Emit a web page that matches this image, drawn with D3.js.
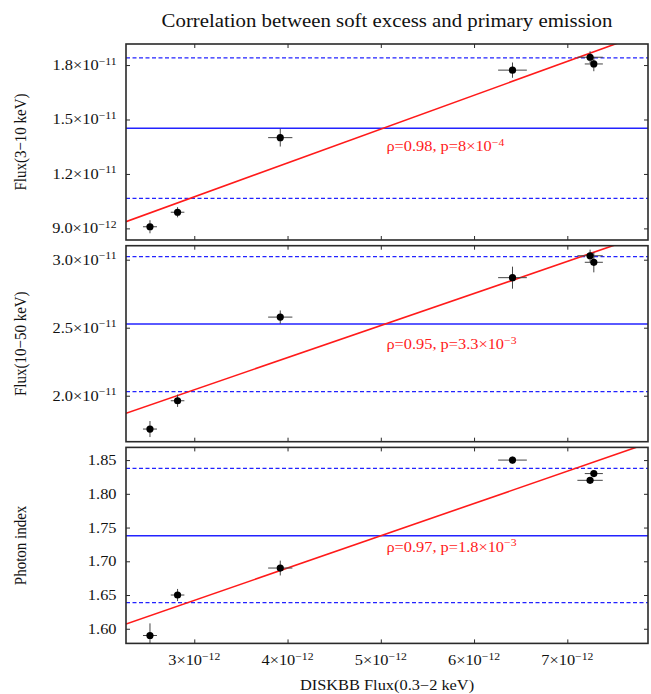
<!DOCTYPE html>
<html>
<head>
<meta charset="utf-8">
<script src="https://cdn.jsdelivr.net/npm/d3@7"></script>
<style>
  html, body { margin: 0; padding: 0; background: #fff; }
  svg { display: block; }
</style>
</head>
<body>
<script>
// ---------------- data ----------------
// x: DISKBB flux (0.3-2 keV) in units of 1e-12
const diskbbFlux    = [2.525, 2.821, 3.922, 6.412, 7.244, 7.284];
const diskbbFluxErr = [0.075, 0.073, 0.130, 0.154, 0.136, 0.097];
// Flux(3-10 keV) in units of 1e-11
const flux3to10     = [0.909, 0.989, 1.400, 1.772, 1.843, 1.806];
const flux3to10Err  = [0.036, 0.028, 0.049, 0.042, 0.033, 0.040];
// Flux(10-50 keV) in units of 1e-11
const flux10to50    = [1.755, 1.963, 2.578, 2.868, 3.029, 2.981];
const flux10to50Err = [0.059, 0.045, 0.049, 0.081, 0.045, 0.074];
// Photon index
const photonIndex    = [1.59, 1.65, 1.69, 1.85, 1.82, 1.83];
const photonIndexErr = [0.018, 0.009, 0.011, 0.005, 0.004, 0.004];

// mean and +-1 sigma levels (blue lines)
const meanLevels  = [1.452, 2.527, 1.738];
const lowLevels   = [1.065, 2.030, 1.6386];
const highLevels  = [1.839, 3.022, 1.8377];

// linear fits (red lines): y = intercept + slope * x
const fitSlopes     = [0.1866, 0.236, 0.04788];
const fitIntercepts = [0.5138, 1.3358, 1.4984];

// correlation annotations
const corrText  = ["ρ=0.98, p=8×10", "ρ=0.95, p=3.3×10", "ρ=0.97, p=1.8×10"];
const corrSup   = ["−4", "−3", "−3"];
const corrAtX   = [5.06, 5.06, 5.06];
const corrAtY   = [1.326, 2.340, 1.714];

// axes
const xDomain = [2.268, 7.865];
const xTicks = [3, 4, 5, 6, 7];
const xTickLabels = ["3×10", "4×10", "5×10", "6×10", "7×10"];
const xTickSup = "−12";

const yDomains = [[0.836, 1.916], [1.662, 3.103], [1.5783, 1.8688]];
const yTicks = [[0.9, 1.2, 1.5, 1.8], [2.0, 2.5, 3.0], [1.60, 1.65, 1.70, 1.75, 1.80, 1.85]];
const yTickLabels = [["9.0×10", "1.2×10", "1.5×10", "1.8×10"], ["2.0×10", "2.5×10", "3.0×10"],
                     ["1.60", "1.65", "1.70", "1.75", "1.80", "1.85"]];
const yTickSup = [["−12", "−11", "−11", "−11"], ["−11", "−11", "−11"], ["", "", "", "", "", ""]];
const yTitles = ["Flux(3−10 keV)", "Flux(10−50 keV)", "Photon index"];
const xTitle = "DISKBB Flux(0.3−2 keV)";
const chartTitle = "Correlation between soft excess and primary emission";

const panelValues = [flux3to10, flux10to50, photonIndex];
const panelErrors = [flux3to10Err, flux10to50Err, photonIndexErr];

// ---------------- layout ----------------
const W = 651, H = 694;
const left = 126, right = 648;
const panelTop = 44, panelH = 196, panelGap = 5.7;
const SX = 1.17; // horizontal text stretch of reference
const frameColor = "#2a2a2a";
const red = "#ff1a1a", blue = "#2323ff";
const FONT = "'Liberation Serif', 'Times New Roman', Times, 'DejaVu Serif', serif";

const svg = d3.select("body").append("svg").attr("width", W).attr("height", H)
  .attr("font-family", FONT);
svg.append("rect").attr("width", W).attr("height", H).attr("fill", "#fff");

const x = d3.scaleLinear().domain(xDomain).range([left, right]);

function stretchedText(g, tx, ty, anchor, size, main, sup, supSize, color) {
  const t = g.append("g").attr("transform", `translate(${tx},${ty}) scale(${SX},1)`)
    .append("text").attr("font-family", FONT).attr("text-anchor", anchor)
    .attr("font-size", size).attr("fill", color || "#111");
  t.append("tspan").text(main);
  if (sup) t.append("tspan").attr("dy", -5.5).attr("font-size", supSize).text(sup);
  return t;
}

// title
stretchedText(svg, (left + right) / 2, 26.7, "middle", 17.8, chartTitle, null, 0, "#111");

panelValues.forEach((vals, p) => {
  const y0 = panelTop + p * (panelH + panelGap);
  const y = d3.scaleLinear().domain(yDomains[p]).range([y0 + panelH, y0]);
  const g = svg.append("g");

  const clipId = "clip" + p;
  svg.append("clipPath").attr("id", clipId).append("rect")
    .attr("x", left).attr("y", y0).attr("width", right - left).attr("height", panelH);
  const inner = g.append("g").attr("clip-path", `url(#${clipId})`);

  // blue mean and sigma lines
  inner.append("line").attr("x1", left).attr("x2", right)
    .attr("y1", y(meanLevels[p])).attr("y2", y(meanLevels[p]))
    .attr("stroke", blue).attr("stroke-width", 1.5);
  [lowLevels[p], highLevels[p]].forEach(v => {
    inner.append("line").attr("x1", left).attr("x2", right)
      .attr("y1", y(v)).attr("y2", y(v))
      .attr("stroke", blue).attr("stroke-width", 1.3).attr("stroke-dasharray", "4,2.5");
  });

  // red fit line
  const fx = xDomain;
  inner.append("line")
    .attr("x1", x(fx[0])).attr("y1", y(fitIntercepts[p] + fitSlopes[p] * fx[0]))
    .attr("x2", x(fx[1])).attr("y2", y(fitIntercepts[p] + fitSlopes[p] * fx[1]))
    .attr("stroke", red).attr("stroke-width", 1.6);

  // error bars & points
  const errs = panelErrors[p];
  vals.forEach((v, i) => {
    inner.append("line").attr("x1", x(diskbbFlux[i] - diskbbFluxErr[i])).attr("x2", x(diskbbFlux[i] + diskbbFluxErr[i]))
      .attr("y1", y(v)).attr("y2", y(v)).attr("stroke", "#444").attr("stroke-width", 1);
    inner.append("line").attr("x1", x(diskbbFlux[i])).attr("x2", x(diskbbFlux[i]))
      .attr("y1", y(v - errs[i])).attr("y2", y(v + errs[i])).attr("stroke", "#444").attr("stroke-width", 1);
  });
  inner.selectAll("circle.pt").data(vals).join("circle").attr("class", "pt")
    .attr("cx", (d, i) => x(diskbbFlux[i])).attr("cy", d => y(d)).attr("r", 3.6).attr("fill", "#000");

  // annotation
  stretchedText(g, x(corrAtX[p]), y(corrAtY[p]), "start", 14, corrText[p], corrSup[p], 10, red);

  // ticks on all sides (inward)
  const tickLen = 4;
  const axL = d3.axisLeft(y).tickValues(yTicks[p]).tickSize(-tickLen).tickFormat("");
  const axR = d3.axisRight(y).tickValues(yTicks[p]).tickSize(-tickLen).tickFormat("");
  const axT = d3.axisTop(x).tickValues(xTicks).tickSize(-tickLen).tickFormat("");
  const axB = d3.axisBottom(x).tickValues(xTicks).tickSize(-tickLen).tickFormat("");
  [[axL, `translate(${left},0)`], [axR, `translate(${right},0)`],
   [axT, `translate(0,${y0})`], [axB, `translate(0,${y0 + panelH})`]].forEach(([ax, tr]) => {
    const a = g.append("g").attr("transform", tr).call(ax);
    a.select(".domain").remove();
    a.selectAll("line").attr("stroke", frameColor).attr("stroke-width", 1);
  });

  // frame
  g.append("rect").attr("x", left).attr("y", y0).attr("width", right - left).attr("height", panelH)
    .attr("fill", "none").attr("stroke", frameColor).attr("stroke-width", 1.6);

  // y tick labels
  yTicks[p].forEach((t, i) => {
    stretchedText(g, left - 9.5, y(t) + 5, "end", 14, yTickLabels[p][i], yTickSup[p][i], 10, "#111");
  });

  // y title
  g.append("g")
    .attr("transform", `translate(26,${y0 + panelH / 2}) rotate(-90) scale(1,${SX})`)
    .append("text").attr("font-family", FONT).attr("text-anchor", "middle")
    .attr("font-size", 15).attr("fill", "#111")
    .text(yTitles[p]);

  // x tick labels on bottom panel
  if (p === panelValues.length - 1) {
    xTicks.forEach((t, i) => {
      stretchedText(g, x(t), y0 + panelH + 22, "middle", 14, xTickLabels[i], xTickSup, 10, "#111");
    });
    stretchedText(g, (left + right) / 2, 690, "middle", 14, xTitle, null, 0, "#111");
  }
});
</script>
</body>
</html>
